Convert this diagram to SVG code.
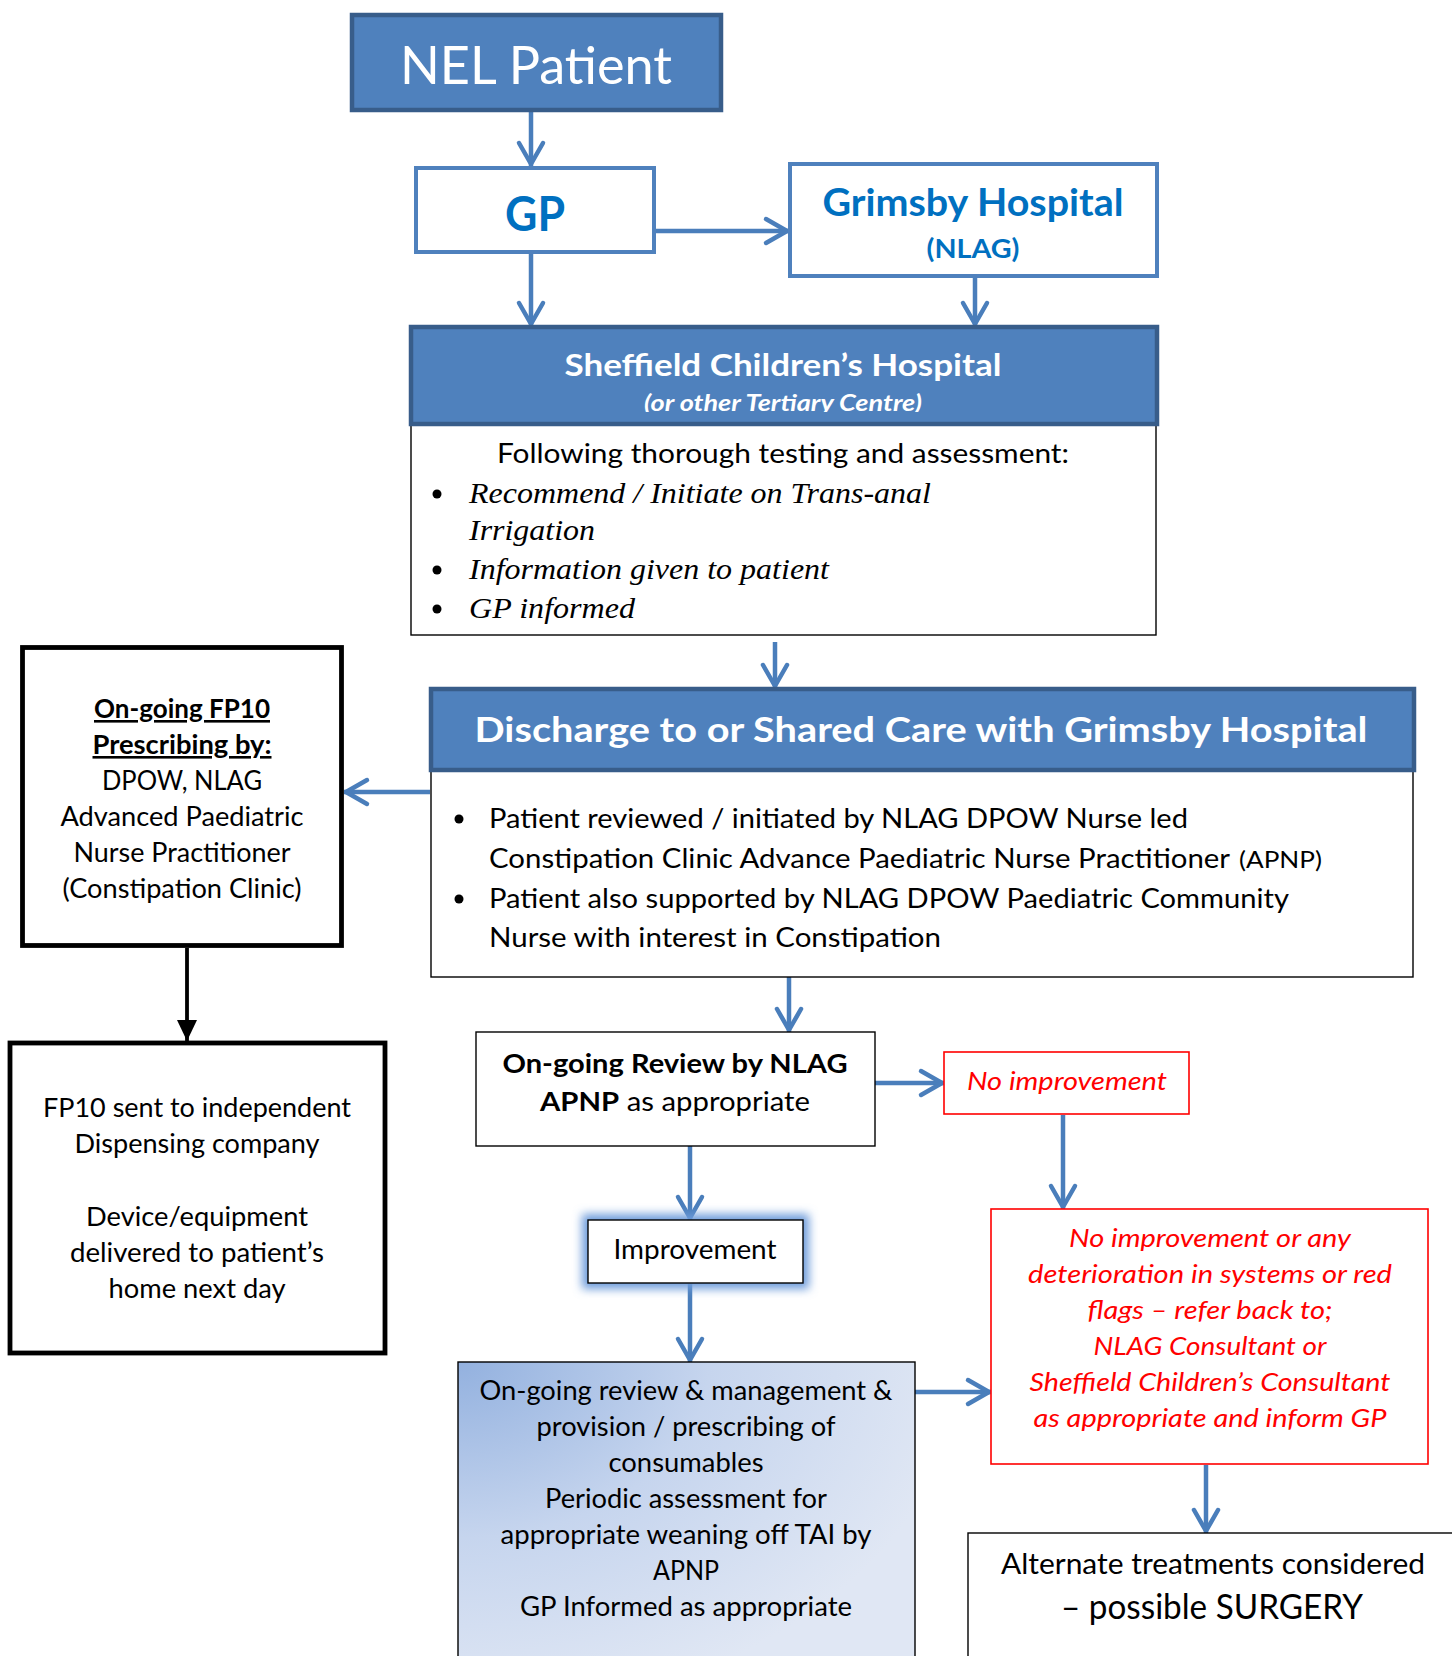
<svg xmlns="http://www.w3.org/2000/svg" width="1452" height="1656" viewBox="0 0 1452 1656">
<style>
.s{font-family:Lato,"Liberation Sans",sans-serif;}
.b{font-weight:bold;}
.i{font-style:italic;}
.ser{font-family:"Liberation Serif","Times New Roman",serif;font-style:italic;font-size:30px;fill:#000;}
.c{text-anchor:middle;}
.w{fill:#fff;}
.k{fill:#000;}
.r{fill:#FF0000;}
.bl{fill:#0070C0;}
.hdr{fill:#4F81BD;stroke:#385D8A;stroke-width:4.5;}
.bbox{fill:#fff;stroke:#4F81BD;stroke-width:4;}
.thin{fill:#fff;stroke:#000;stroke-width:1.4;}
.thick{fill:#fff;stroke:#000;stroke-width:4.8;}
.red{fill:#fff;stroke:#FF0000;stroke-width:1.6;}
.t27{font-size:27px;}
.conn{fill:none;stroke:#4A7EBB;stroke-width:4.5;marker-end:url(#ah);}
.connk{fill:none;stroke:#000;stroke-width:3.8;marker-end:url(#ahk);}
</style>
<defs>
<marker id="ah" markerUnits="userSpaceOnUse" viewBox="-30 -16 34 32" refX="0" refY="0" markerWidth="34" markerHeight="32" orient="auto">
<path d="M-23,-12 L-2,0 L-23,12" fill="none" stroke="#4A7EBB" stroke-width="4.5" stroke-linecap="round" stroke-linejoin="round"/>
</marker>
<marker id="ahk" markerUnits="userSpaceOnUse" viewBox="-24 -12 26 24" refX="0" refY="0" markerWidth="26" markerHeight="24" orient="auto">
<path d="M-21,-10 L0,0 L-21,10 Z" fill="#000"/>
</marker>
<radialGradient id="grad" cx="0" cy="0" r="1.1" fx="0" fy="0">
<stop offset="0" stop-color="#93B1DF"/>
<stop offset="0.5" stop-color="#C6D5EE"/>
<stop offset="1" stop-color="#E0E7F4"/>
</radialGradient>
<filter id="glow" x="-30%" y="-50%" width="160%" height="200%">
<feGaussianBlur stdDeviation="5"/>
</filter>
<clipPath id="subclip"><rect x="411" y="327" width="746" height="85"/></clipPath>
</defs>

<g id="connectors">
<path class="conn" d="M531,111 V166"/>
<path class="conn" d="M655,231 H789"/>
<path class="conn" d="M531,253 V326"/>
<path class="conn" d="M975,277 V326"/>
<path class="conn" d="M775,642 V688"/>
<path class="conn" d="M430,792 H344"/>
<path class="connk" d="M187,948 V1041"/>
<path class="conn" d="M789,977 V1032"/>
<path class="conn" d="M875,1083 H944"/>
<path class="conn" d="M1063,1115 V1209"/>
<path class="conn" d="M690,1146 V1220"/>
<path class="conn" d="M690,1284 V1362"/>
<path class="conn" d="M915,1392 H991"/>
<path class="conn" d="M1206,1465 V1533"/>
</g>

<g id="nel-patient">
<rect class="hdr" x="352" y="15" width="369" height="95"/>
<text class="s c w" x="536" y="84" font-size="52" textLength="272" lengthAdjust="spacingAndGlyphs">NEL Patient</text>
</g>

<g id="gp">
<rect class="bbox" x="416" y="168" width="238" height="84"/>
<text class="s c b bl" x="535" y="231" font-size="47" textLength="60" lengthAdjust="spacingAndGlyphs">GP</text>
</g>

<g id="grimsby">
<rect class="bbox" x="790" y="164" width="367" height="112"/>
<text class="s c b bl" x="973" y="216" font-size="38" textLength="301" lengthAdjust="spacingAndGlyphs">Grimsby Hospital</text>
<text class="s c b bl" x="973" y="258" font-size="27" textLength="93" lengthAdjust="spacingAndGlyphs">(NLAG)</text>
</g>

<g id="sheffield">
<rect class="thin" x="411" y="424" width="745" height="211"/>
<rect class="hdr" x="411" y="327" width="746" height="97"/>
<text class="s c b w" x="783" y="376" font-size="30" textLength="437" lengthAdjust="spacingAndGlyphs">Sheffield Children’s Hospital</text>
<text class="s c b i w" x="783" y="411" font-size="22" textLength="278" lengthAdjust="spacingAndGlyphs" clip-path="url(#subclip)">(or other Tertiary Centre)</text>
<text class="s c k t27" x="783" y="463" textLength="572" lengthAdjust="spacingAndGlyphs">Following thorough testing and assessment:</text>
<circle cx="437" cy="494" r="4.5" fill="#000"/>
<circle cx="437" cy="570" r="4.5" fill="#000"/>
<circle cx="437" cy="609" r="4.5" fill="#000"/>
<text class="ser" x="469" y="503" textLength="462" lengthAdjust="spacingAndGlyphs">Recommend / Initiate on Trans-anal</text>
<text class="ser" x="469" y="540" textLength="126" lengthAdjust="spacingAndGlyphs">Irrigation</text>
<text class="ser" x="469" y="579" textLength="360" lengthAdjust="spacingAndGlyphs">Information given to patient</text>
<text class="ser" x="469" y="618" textLength="166" lengthAdjust="spacingAndGlyphs">GP informed</text>
</g>

<g id="discharge">
<rect class="thin" x="431" y="770" width="982" height="207"/>
<rect class="hdr" x="431" y="689" width="983" height="81"/>
<text class="s c b w" x="921" y="742" font-size="35" textLength="893" lengthAdjust="spacingAndGlyphs">Discharge to or Shared Care with Grimsby Hospital</text>
<circle cx="459" cy="819" r="4.5" fill="#000"/>
<circle cx="459" cy="899" r="4.5" fill="#000"/>
<text class="s k t27" x="489" y="828" textLength="699" lengthAdjust="spacingAndGlyphs">Patient reviewed / initiated by NLAG DPOW Nurse led</text>
<text class="s k t27" x="489" y="868" textLength="741" lengthAdjust="spacingAndGlyphs">Constipation Clinic Advance Paediatric Nurse Practitioner</text>
<text class="s k" x="1239" y="868" font-size="23" textLength="83" lengthAdjust="spacingAndGlyphs">(APNP)</text>
<text class="s k t27" x="489" y="908" textLength="800" lengthAdjust="spacingAndGlyphs">Patient also supported by NLAG DPOW Paediatric Community</text>
<text class="s k t27" x="489" y="947" textLength="452" lengthAdjust="spacingAndGlyphs">Nurse with interest in Constipation</text>
</g>

<g id="fp10-prescribing">
<rect class="thick" x="22.5" y="647.5" width="319" height="298"/>
<text class="s c b k" x="182" y="718" font-size="26" text-decoration="underline" textLength="176" lengthAdjust="spacingAndGlyphs">On-going FP10</text>
<text class="s c b k" x="182" y="754" font-size="26" text-decoration="underline" textLength="179" lengthAdjust="spacingAndGlyphs">Prescribing by:</text>
<text class="s c k" x="182" y="790" font-size="26" textLength="160" lengthAdjust="spacingAndGlyphs">DPOW, NLAG</text>
<text class="s c k" x="182" y="826" font-size="26" textLength="243" lengthAdjust="spacingAndGlyphs">Advanced Paediatric</text>
<text class="s c k" x="182" y="862" font-size="26" textLength="217" lengthAdjust="spacingAndGlyphs">Nurse Practitioner</text>
<text class="s c k" x="182" y="898" font-size="26" textLength="239" lengthAdjust="spacingAndGlyphs">(Constipation Clinic)</text>
</g>

<g id="dispensing">
<rect class="thick" x="10" y="1043" width="375" height="310"/>
<text class="s c k" x="197" y="1117" font-size="26.5" textLength="308" lengthAdjust="spacingAndGlyphs">FP10 sent to independent</text>
<text class="s c k" x="197" y="1153" font-size="26.5" textLength="245" lengthAdjust="spacingAndGlyphs">Dispensing company</text>
<text class="s c k" x="197" y="1226" font-size="26.5" textLength="222" lengthAdjust="spacingAndGlyphs">Device/equipment</text>
<text class="s c k" x="197" y="1262" font-size="26.5" textLength="254" lengthAdjust="spacingAndGlyphs">delivered to patient’s</text>
<text class="s c k" x="197" y="1298" font-size="26.5" textLength="177" lengthAdjust="spacingAndGlyphs">home next day</text>
</g>

<g id="review">
<rect class="thin" x="476" y="1032" width="399" height="114"/>
<text class="s c b k" x="675" y="1073" font-size="27" textLength="345" lengthAdjust="spacingAndGlyphs">On-going Review by NLAG</text>
<text class="s k" x="540" y="1111" font-size="27" textLength="270" lengthAdjust="spacingAndGlyphs"><tspan font-weight="bold">APNP</tspan> as appropriate</text>
</g>

<g id="no-improvement">
<rect class="red" x="944" y="1052" width="245" height="62"/>
<text class="s c i r" x="1067" y="1090" font-size="26" textLength="200" lengthAdjust="spacingAndGlyphs">No improvement</text>
</g>

<g id="refer-back">
<rect class="red" x="991" y="1209" width="437" height="255"/>
<text class="s c i r" x="1210" y="1247" font-size="26" textLength="282" lengthAdjust="spacingAndGlyphs">No improvement or any</text>
<text class="s c i r" x="1210" y="1283" font-size="26" textLength="364" lengthAdjust="spacingAndGlyphs">deterioration in systems or red</text>
<text class="s c i r" x="1210" y="1319" font-size="26" textLength="245" lengthAdjust="spacingAndGlyphs">flags – refer back to;</text>
<text class="s c i r" x="1210" y="1355" font-size="26" textLength="233" lengthAdjust="spacingAndGlyphs">NLAG Consultant or</text>
<text class="s c i r" x="1210" y="1391" font-size="26" textLength="361" lengthAdjust="spacingAndGlyphs">Sheffield Children’s Consultant</text>
<text class="s c i r" x="1210" y="1427" font-size="26" textLength="353" lengthAdjust="spacingAndGlyphs">as appropriate and inform GP</text>
</g>

<g id="improvement">
<rect x="582" y="1214" width="227" height="75" fill="#6E9CDB" filter="url(#glow)"/>
<rect class="thin" x="588" y="1220" width="215" height="63"/>
<text class="s c k" x="695" y="1259" font-size="26" textLength="163" lengthAdjust="spacingAndGlyphs">Improvement</text>
</g>

<g id="ongoing-management">
<rect x="458" y="1362" width="457" height="320" fill="url(#grad)" stroke="#000" stroke-width="1.4"/>
<text class="s c k" x="686" y="1400" font-size="26" textLength="413" lengthAdjust="spacingAndGlyphs">On-going review &amp; management &amp;</text>
<text class="s c k" x="686" y="1436" font-size="26" textLength="299" lengthAdjust="spacingAndGlyphs">provision / prescribing of</text>
<text class="s c k" x="686" y="1472" font-size="26" textLength="155" lengthAdjust="spacingAndGlyphs">consumables</text>
<text class="s c k" x="686" y="1508" font-size="26" textLength="282" lengthAdjust="spacingAndGlyphs">Periodic assessment for</text>
<text class="s c k" x="686" y="1544" font-size="26" textLength="371" lengthAdjust="spacingAndGlyphs">appropriate weaning off TAI by</text>
<text class="s c k" x="686" y="1580" font-size="26" textLength="66" lengthAdjust="spacingAndGlyphs">APNP</text>
<text class="s c k" x="686" y="1616" font-size="26" textLength="332" lengthAdjust="spacingAndGlyphs">GP Informed as appropriate</text>
</g>

<g id="alternate">
<rect class="thin" x="968" y="1533" width="500" height="140"/>
<text class="s c k" x="1213" y="1574" font-size="28" textLength="424" lengthAdjust="spacingAndGlyphs">Alternate treatments considered</text>
<text class="s c k" x="1212" y="1619" font-size="34" textLength="302" lengthAdjust="spacingAndGlyphs">– possible SURGERY</text>
</g>
</svg>
